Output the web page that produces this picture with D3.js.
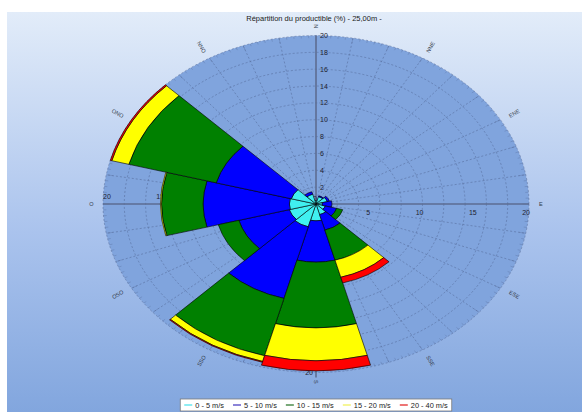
<!DOCTYPE html>
<html>
<head>
<meta charset="utf-8">
<script src="https://cdn.jsdelivr.net/npm/d3@7"></script>
<style>
  html, body { margin: 0; padding: 0; background: #ffffff; }
  svg { display: block; font-family: "Liberation Sans", Arial, sans-serif; }
</style>
</head>
<body>
<svg id="chart" width="582" height="412"></svg>
<script>
// Wind sectors (12 x 30°) and speed classes
const directions = ["N", "NNE", "ENE", "E", "ESE", "SSE", "S", "SSO", "OSO", "O", "ONO", "NNO"];
const speedClasses = ["0 - 5 m/s", "5 - 10 m/s", "10 - 15 m/s", "15 - 20 m/s", "20 - 40 m/s"];

// Share of the energy production (%) per sector and speed class
const share0to5   = [0.4, 0.9, 1.1, 0.6, 0.9, 1.3, 2.0, 2.8, 2.6, 2.5, 2.4, 1.2];
const share5to10  = [0.0, 0.1, 0.2, 0.9, 1.1, 1.9, 4.9, 8.8, 4.9, 8.1, 7.3, 0.3];
const share10to15 = [0.0, 0.0, 0.0, 0.0, 0.6, 3.7, 7.8, 7.05, 2.0, 3.9, 8.5, 0.0];
const share15to20 = [0.0, 0.0, 0.0, 0.0, 0.0, 2.1, 3.9, 0.7, 0.0, 0.1, 1.65, 0.0];
const share20to40 = [0.0, 0.0, 0.0, 0.0, 0.0, 0.7, 1.2, 0.1, 0.0, 0.0, 0.15, 0.0];

const classColors = ["#40f0f0", "#0000ff", "#008000", "#ffff00", "#ff0000"];
const legendColors = ["#5ee6ee", "#5a4fc8", "#3f853f", "#f2f26a", "#e63a3a"];

// Radial axis tick labels
const northTicks = [0, 2, 4, 6, 8, 10, 12, 14, 16, 18, 20];
const eastTicks = [5, 10, 15, 20];
const westTicks = [5, 10, 15, 20];
const southTicks = [2, 4, 6, 8, 10, 12, 14, 16, 18, 20];

const title = "Répartition du productible (%) - 25,00m -";

const svg = d3.select("#chart");
const W = 582, H = 412;
const cx = 316, cy = 204;

// Panel background gradient
const defs = svg.append("defs");
const grad = defs.append("linearGradient").attr("id", "panelGrad")
  .attr("x1", 0).attr("y1", 0).attr("x2", 0).attr("y2", 1);
grad.append("stop").attr("offset", "0%").attr("stop-color", "#e2ecf9");
grad.append("stop").attr("offset", "55%").attr("stop-color", "#aac3ed");
grad.append("stop").attr("offset", "100%").attr("stop-color", "#82a6de");

svg.append("rect").attr("x", 7).attr("y", 12).attr("width", W - 7).attr("height", H - 12)
  .attr("fill", "url(#panelGrad)");

// Elliptical radial scales (horizontal / vertical)
const rX = d3.scaleLinear().domain([0, 20]).range([0, 213]);
const rY = d3.scaleLinear().domain([0, 20]).range([0, 168.5]);
const stretch = rX(20) / rY(20);
const toRad = d3.scaleLinear().domain([0, 360]).range([0, 2 * Math.PI]);
const px = (v, deg) => cx + rX(v) * Math.sin(toRad(deg));
const py = (v, deg) => cy - rY(v) * Math.cos(toRad(deg));

// Plot area
svg.append("ellipse").attr("cx", cx).attr("cy", cy)
  .attr("rx", rX(20)).attr("ry", rY(20))
  .attr("fill", "#80a4dd");

const grid = svg.append("g").attr("stroke", "#4f6390").attr("stroke-width", 0.6)
  .attr("fill", "none").attr("opacity", 0.8);

// concentric rings
grid.selectAll("ellipse.ring").data(d3.range(2, 21, 2)).join("ellipse")
  .attr("class", "ring")
  .attr("cx", cx).attr("cy", cy)
  .attr("rx", d => rX(d)).attr("ry", d => rY(d))
  .attr("stroke-dasharray", "2,2");

// spokes every 10°
grid.selectAll("line.spoke").data(d3.range(0, 360, 10).filter(a => a % 90 !== 0)).join("line")
  .attr("class", "spoke")
  .attr("x1", cx).attr("y1", cy)
  .attr("x2", d => px(20, d)).attr("y2", d => py(20, d))
  .attr("stroke-dasharray", "2,2");

// rim ticks
grid.selectAll("line.rimtick").data(d3.range(0, 360, 2)).join("line")
  .attr("class", "rimtick")
  .attr("opacity", 0.6)
  .attr("x1", d => px(20, d)).attr("y1", d => py(20, d))
  .attr("x2", d => px(d % 10 === 0 ? 19.4 : 19.7, d)).attr("y2", d => py(d % 10 === 0 ? 19.4 : 19.7, d));

// main axes
const axes = svg.append("g").attr("stroke", "#5d6d92").attr("stroke-width", 1.6);
axes.append("line").attr("x1", cx).attr("x2", cx).attr("y1", cy - rY(20)).attr("y2", cy + rY(20) + 5);
axes.append("line").attr("y1", cy).attr("y2", cy).attr("x1", cx - rX(20)).attr("x2", cx + rX(20));

// axis labels
const lab = svg.append("g").attr("font-size", 7).attr("fill", "#1e2230");
lab.selectAll("text.n").data(northTicks).join("text").attr("class", "n")
  .attr("x", d => d === 0 ? cx - 1 : cx + 4)
  .attr("y", d => d === 0 ? cy - 5 : cy - rY(d))
  .attr("dy", "0.35em")
  .attr("text-anchor", d => d === 0 ? "middle" : "start")
  .text(d => d);
lab.selectAll("text.e").data(eastTicks).join("text").attr("class", "e")
  .attr("x", d => cx + rX(d) + 1).attr("y", cy + 9).attr("dy", "0.35em")
  .attr("text-anchor", "end").text(d => d);
lab.selectAll("text.w").data(westTicks).join("text").attr("class", "w")
  .attr("x", d => cx - rX(d)).attr("y", cy - 7).attr("dy", "0.35em")
  .attr("text-anchor", "start").text(d => d);
lab.selectAll("text.s").data(southTicks).join("text").attr("class", "s")
  .attr("x", cx - 3).attr("y", d => cy + rY(d)).attr("dy", "0.35em")
  .attr("text-anchor", "end").text(d => d);

// Stacked sectors
const rows = directions.map((d, i) => ({
  dir: d,
  [speedClasses[0]]: share0to5[i],
  [speedClasses[1]]: share5to10[i],
  [speedClasses[2]]: share10to15[i],
  [speedClasses[3]]: share15to20[i],
  [speedClasses[4]]: share20to40[i]
}));
const stacked = d3.stack().keys(speedClasses)(rows);

const angle = d3.scaleBand().domain(directions)
  .range([-Math.PI / 12, 2 * Math.PI - Math.PI / 12]).padding(0);

const arc = d3.arc()
  .innerRadius(d => rY(d[0]))
  .outerRadius(d => rY(d[1]))
  .startAngle(d => angle(d.data.dir))
  .endAngle(d => angle(d.data.dir) + angle.bandwidth());

const bars = svg.append("g").attr("transform", `translate(${cx},${cy}) scale(${stretch},1)`);
bars.selectAll("g.layer").data(stacked).join("g").attr("class", "layer")
  .attr("fill", (d, i) => classColors[i])
  .selectAll("path").data(d => d.filter(s => s[1] - s[0] > 0)).join("path")
  .attr("d", arc)
  .attr("stroke", "#000")
  .attr("stroke-width", 0.6)
  .attr("vector-effect", "non-scaling-stroke");

// Direction labels around the rim
const dirAngle = d3.scaleOrdinal().domain(directions).range(d3.range(0, 360, 30));
const cardinal = new Set(["N", "E", "S", "O"]);
svg.append("g").attr("font-size", 5.5).attr("fill", "#333a48")
  .selectAll("text").data(directions).join("text")
  .attr("transform", d => {
    const a = dirAngle(d);
    const r = cardinal.has(d) ? 21.1 : 21.5;
    let rot = a - 90;
    if (rot > 90) rot -= 180;
    return `translate(${px(r, a)},${py(r, a)}) rotate(${rot})`;
  })
  .attr("text-anchor", "middle").attr("dy", "0.35em")
  .text(d => d);

// Title
svg.append("text").attr("x", 314).attr("y", 18).attr("dy", "0.35em")
  .attr("text-anchor", "middle").attr("font-size", 7.5).attr("fill", "#1a1a1a")
  .text(title);

// Legend
const legend = svg.append("g");
const legBox = legend.append("rect").attr("fill", "#ffffff").attr("stroke", "#7a7a7a").attr("stroke-width", 0.8);
const items = legend.selectAll("g.item").data(speedClasses).join("g").attr("class", "item");
items.append("line").attr("stroke", (d, i) => legendColors[i]).attr("stroke-width", 1.4)
  .attr("x1", 0).attr("x2", 8).attr("y1", 0).attr("y2", 0);
items.append("text").attr("x", 11).attr("dy", "0.35em").attr("font-size", 7.4).attr("fill", "#222")
  .text(d => d);
let xpos = 0;
const gap = 9;
const widths = [];
items.each(function () {
  const w = 11 + d3.select(this).select("text").node().getComputedTextLength();
  widths.push(w);
});
const total = d3.sum(widths) + gap * (widths.length - 1);
const legX0 = cx - total / 2;
const legY = 405;
items.attr("transform", (d, i) => {
  const t = `translate(${legX0 + xpos},${legY})`;
  xpos += widths[i] + gap;
  return t;
});
legBox.attr("x", legX0 - 4).attr("y", legY - 6).attr("width", total + 8).attr("height", 12);
</script>
</body>
</html>
